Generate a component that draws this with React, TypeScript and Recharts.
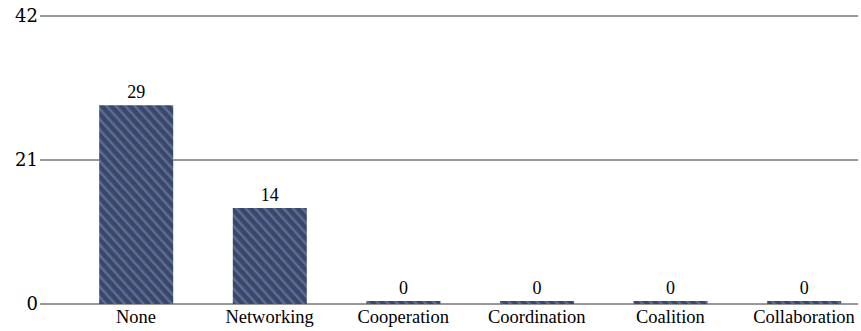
import React from "react";
import { BarChart, Bar, XAxis, YAxis, CartesianGrid, LabelList } from "recharts";

const categories = ["None", "Networking", "Cooperation", "Coordination", "Coalition", "Collaboration"];
const counts = [29, 14, 0, 0, 0, 0];
const yTicks = [0, 21, 42];

const data = categories.map((name, i) => ({ idx: i, name, value: counts[i] }));

const X_MIN = -0.7186;
const X_MAX = 5.4042;

const SERIF = "Liberation Serif";
const YFONT = "DejaVu Serif";

const XTick = (props: any) => {
  const { x, y, payload } = props;
  return (
    <text x={x} y={y + 19} textAnchor="middle" fontSize={18.5} fill="#000" fontFamily={SERIF}>
      {categories[payload.value] ?? ""}
    </text>
  );
};

const YTick = (props: any) => {
  const { x, y, payload } = props;
  return (
    <text x={x} y={y + 6} textAnchor="end" fontSize={18} fill="#000" fontFamily={YFONT}>
      {payload.value}
    </text>
  );
};

const TopLabel = (props: any) => {
  const { x, y, width, value } = props;
  return (
    <text x={x + width / 2} y={y - 7} textAnchor="middle" fontSize={18} fill="#000" fontFamily={SERIF}>
      {value}
    </text>
  );
};

export default function App() {
  return (
    <div style={{ position: "absolute", left: 0, top: 0, fontFamily: "Liberation Serif" }}>
      <BarChart
        width={861}
        height={331}
        data={data}
        margin={{ top: 16, right: 3, bottom: 0, left: 0 }}
        style={{ fontFamily: "Liberation Serif" }}
      >
        <defs>
          <pattern id="tex" patternUnits="userSpaceOnUse" width="7" height="7" patternTransform="rotate(-42)">
            <rect x="0" y="0" width="7" height="7" fill="#3a4769" />
            <rect x="0" y="0" width="2.5" height="7" fill="#5b6d96" />
          </pattern>
        </defs>
        <CartesianGrid vertical={false} stroke="#333" strokeWidth={1} />
        <XAxis
          dataKey="idx"
          type="number"
          domain={[X_MIN, X_MAX]}
          ticks={[0, 1, 2, 3, 4, 5]}
          axisLine={false}
          tickLine={false}
          tickSize={0}
          tickMargin={0}
          height={27}
          interval={0}
          allowDataOverflow
          tick={<XTick />}
        />
        <YAxis
          domain={[0, 42]}
          ticks={yTicks}
          axisLine={false}
          tickLine={false}
          tickSize={0}
          tickMargin={2}
          width={40}
          tick={<YTick />}
        />
        <Bar dataKey="value" fill="url(#tex)" barSize={74} minPointSize={3} isAnimationActive={false}>
          <LabelList dataKey="value" content={<TopLabel />} />
        </Bar>
      </BarChart>
    </div>
  );
}
